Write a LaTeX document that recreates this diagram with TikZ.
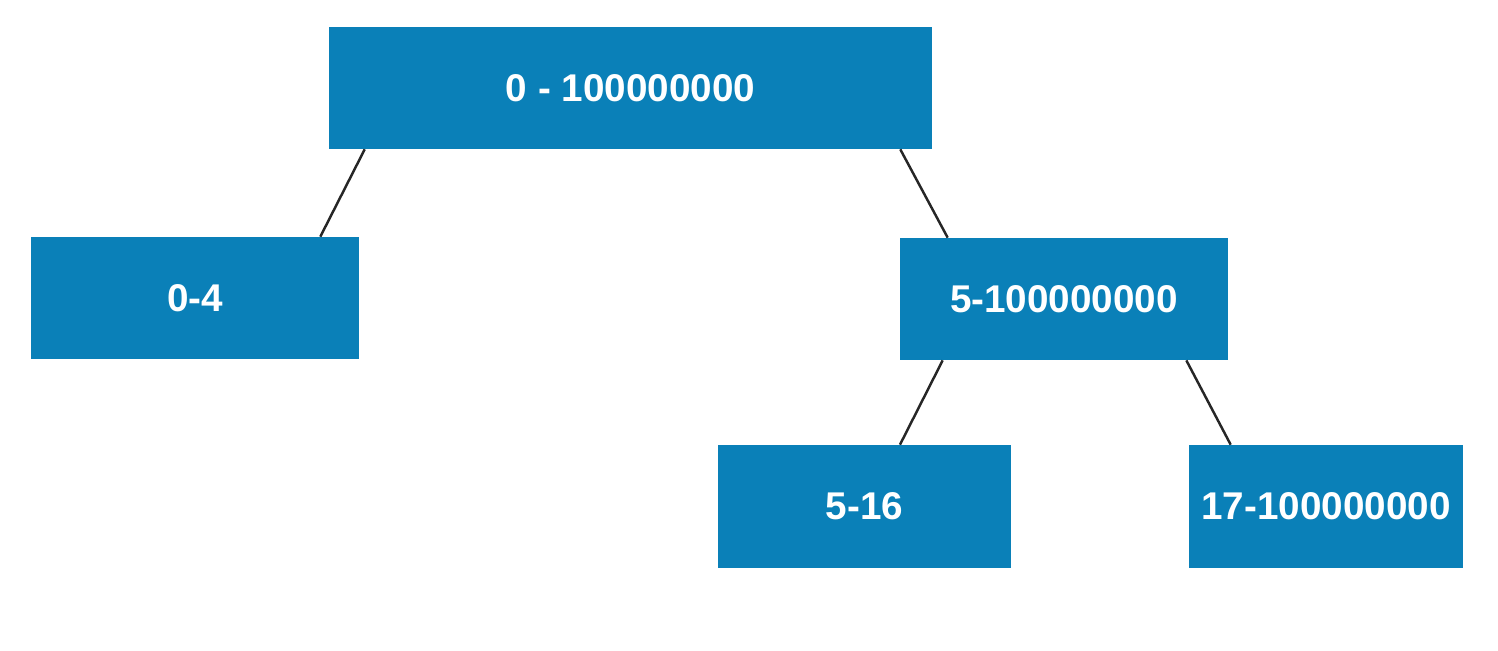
\documentclass[tikz,border=0pt]{standalone}
\usepackage{fontspec}
\setmainfont{Liberation Sans}
\usepackage{xcolor}
\usetikzlibrary{
	arrows.meta,
	positioning,
	}
\definecolor{rangeblue}{HTML}{0A80B8}
\tikzset{
	rangebox/.style={fill=rangeblue, text=white, font=\fontsize{22}{26}\selectfont\bfseries, minimum height=2.44cm, inner sep=0pt},
	treeedge/.style={line width=1.4pt, draw=black!85},
}

\begin{document}
\begin{tikzpicture}[x=0.02cm, y=-0.02cm]
		\useasboundingbox (0,0) rectangle (1498,650);
		\node[rangebox, minimum width=12.06cm] (all) at (630.5,88) {0 - 100000000};
		\node[rangebox, minimum width=6.56cm] (lo) at (195,298) {0-4};
		\node[rangebox, minimum width=6.56cm] (hi) at (1064,299) {5-100000000};
		\node[rangebox, minimum width=5.86cm, minimum height=2.46cm] (hilo) at (864.5,506.5) {5-16};
		\node[rangebox, minimum width=5.48cm, minimum height=2.46cm] (hihi) at (1326,506.5) {17-100000000};
		\draw[treeedge] ([xshift=0.72cm]all.south west) -- ([xshift=-0.78cm]lo.north east);
		\draw[treeedge] ([xshift=-0.64cm]all.south east) -- ([xshift=0.96cm]hi.north west);
		\draw[treeedge] ([xshift=0.86cm]hi.south west) -- ([xshift=0.71cm]hilo.north);
		\draw[treeedge] ([xshift=-0.84cm]hi.south east) -- ([xshift=0.84cm]hihi.north west);
	\end{tikzpicture}
\end{document}
